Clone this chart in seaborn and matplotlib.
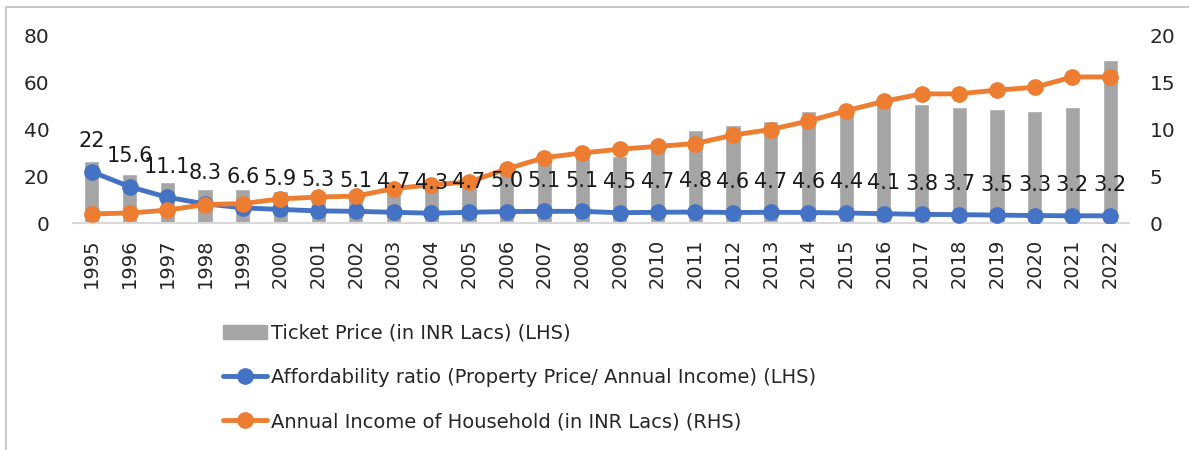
import numpy as np
import pandas as pd
import matplotlib
matplotlib.use('Agg')
import matplotlib.pyplot as plt
from matplotlib.lines import Line2D
from matplotlib.patches import Patch, Rectangle
import seaborn as sns


# data
years = [str(y) for y in range(1995, 2023)]
ticket_price = [26.7, 20.9, 17.7, 14.6, 14.6, 13.6, 12.0, 12.0, 16.0, 17.0,
                18.5, 22.0, 27.7, 29.8, 28.7, 32.0, 39.8, 41.9, 43.6, 47.9,
                49.5, 51.2, 50.9, 49.8, 48.8, 47.9, 49.7, 69.6]
afford_ratio = [22, 15.6, 11.1, 8.3, 6.6, 5.9, 5.3, 5.1, 4.7, 4.3,
                4.7, 5.0, 5.1, 5.1, 4.5, 4.7, 4.8, 4.6, 4.7, 4.6,
                4.4, 4.1, 3.8, 3.7, 3.5, 3.3, 3.2, 3.2]
ratio_labels = ['22', '15.6', '11.1', '8.3', '6.6', '5.9', '5.3', '5.1', '4.7', '4.3',
                '4.7', '5.0', '5.1', '5.1', '4.5', '4.7', '4.8', '4.6', '4.7', '4.6',
                '4.4', '4.1', '3.8', '3.7', '3.5', '3.3', '3.2', '3.2']
annual_income = [1.0, 1.1, 1.4, 2.0, 2.1, 2.6, 2.8, 2.9, 3.7, 4.1,
                 4.4, 5.8, 7.0, 7.5, 7.9, 8.2, 8.5, 9.4, 10.0, 10.9,
                 12.0, 13.0, 13.8, 13.8, 14.2, 14.5, 15.6, 15.6]

df = pd.DataFrame({'Year': years, 'Ticket': ticket_price,
                   'Ratio': afford_ratio, 'Income': annual_income})

GREY = '#A5A5A5'
BLUE = '#4472C4'
ORANGE = '#ED7D31'

sns.set_style('white')
plt.rcParams['font.family'] = ['DejaVu Sans']

fig = plt.figure(figsize=(11.89, 4.5), dpi=100)
ax = fig.add_axes([73 / 1189, 1 - 223.3 / 450, (1129 - 73) / 1189, (223.3 - 35.7) / 450])

# bars on the left axis
sns.barplot(data=df, x='Year', y='Ticket', color=GREY, width=0.4,
            saturation=1, ax=ax)

# affordability ratio, left axis
pos = np.arange(len(df))
ax.plot(pos, df['Ratio'], color=BLUE, lw=3.5, marker='o', ms=11, zorder=4)

ax.set_ylim(0, 80)
ax.set_yticks([0, 20, 40, 60, 80])
ax.set_xlim(-0.5, len(df) - 0.5)
ax.set_xlabel('')
ax.set_ylabel('')
ax.tick_params(axis='x', rotation=90, labelsize=14, length=0, pad=11)
ax.tick_params(axis='y', labelsize=14.5, length=0, pad=17)
for s in ['top', 'right', 'left']:
    ax.spines[s].set_visible(False)
ax.spines['bottom'].set_color('#D9D9D9')
ax.spines['bottom'].set_linewidth(1.5)

# annual income, right axis (drawn above the bars)
ax2 = ax.twinx()
ax2.plot(pos, df['Income'], color=ORANGE, lw=3.5, marker='o', ms=11, zorder=3)
ax2.set_ylim(0, 20)
ax2.set_yticks([0, 5, 10, 15, 20])
ax2.tick_params(axis='y', labelsize=14.5, length=0, pad=15)
for s in ax2.spines.values():
    s.set_visible(False)

# data labels of the ratio, on top of everything
for x, v, t in zip(pos, df['Ratio'], ratio_labels):
    ax2.annotate(t, (x, v), xycoords=ax.transData, xytext=(0, 22),
                 textcoords='offset points', ha='center', va='center',
                 fontsize=15, color='#1a1a1a', zorder=6)

handles = [Patch(color=GREY),
           Line2D([], [], color=BLUE, lw=3.5, marker='o', ms=11),
           Line2D([], [], color=ORANGE, lw=3.5, marker='o', ms=11)]
labels = ['Ticket Price (in INR Lacs) (LHS)',
          'Affordability ratio (Property Price/ Annual Income) (LHS)',
          'Annual Income of Household (in INR Lacs) (RHS)']
fig.legend(handles, labels, loc='upper left', bbox_to_anchor=(205 / 1189, 1 - 306 / 450),
           frameon=False, fontsize=14, handlelength=2.3, handletextpad=0.2,
           labelspacing=1.3)

# light outer frame
fig.patches.append(Rectangle((6 / 1189, -0.1), 1.2, 1 - 7 / 450 + 0.1,
                             transform=fig.transFigure, fill=False,
                             edgecolor='#BFBFBF', lw=1.2))

fig.savefig('out.png', dpi=100)
